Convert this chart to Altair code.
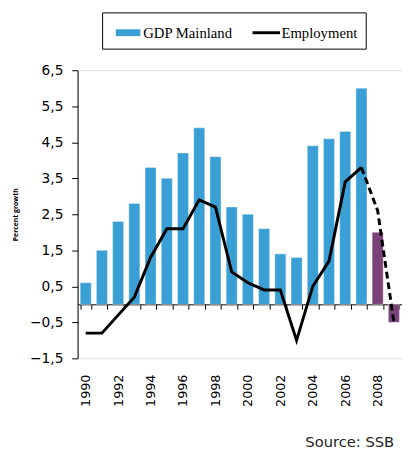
import altair as alt
import pandas as pd

years = [str(y) for y in range(1990, 2010)]
gdp = [0.6, 1.5, 2.3, 2.8, 3.8, 3.5, 4.2, 4.9, 4.1, 2.7, 2.5, 2.1, 1.4, 1.3, 4.4, 4.6, 4.8, 6.0, 2.0, -0.5]
emp = [-0.8, -0.8, -0.3, 0.2, 1.3, 2.1, 2.1, 2.9, 2.7, 0.9, 0.6, 0.4, 0.4, -1.0, 0.5, 1.2, 3.4, 3.8, 2.6, -0.5]
forecast_years = ["2008", "2009"]
series_names = ["GDP Mainland", "Employment"]
y_ticks = [-1.5, -0.5, 0.5, 1.5, 2.5, 3.5, 4.5, 5.5, 6.5]

BLUE = "#3a9fd5"
PURPLE = "#7b4179"

bars_df = pd.DataFrame({"year": years, "value": gdp})
bars_df["forecast"] = bars_df["year"].isin(forecast_years)
solid_df = pd.DataFrame({"year": years[:18], "value": emp[:18]})
dash_df = pd.DataFrame({"year": years[17:], "value": emp[17:]})
legend_df = pd.DataFrame({"series": series_names})

W, H = 331, 294
ZERO_OFFSET = H * 1.5 / 8  # distance of the zero line above the plot bottom

xscale = alt.Scale(paddingInner=0.32, paddingOuter=0.16, round=False)
yscale = alt.Scale(domain=[-1.5, 6.5], nice=False, zero=False)
cscale = alt.Scale(domain=series_names, range=[BLUE, "black"])
sscale = alt.Scale(
    domain=series_names,
    range=["M-1,-0.28L1,-0.28L1,0.28L-1,0.28Z", "M-1.12,-0.12L1.12,-0.12L1.12,0.12L-1.12,0.12Z"],
)

legend = alt.Legend(
    orient="none", legendX=25, legendY=-59, direction="horizontal", title=None,
    strokeColor="black", padding=8, columnPadding=15,
    labelFont="Liberation Serif", labelFontSize=15, labelColor="black", labelOffset=3,
    symbolSize=625, symbolStrokeWidth=0, symbolOpacity=1, symbolOffset=6,
)

yaxis = alt.Axis(
    values=y_ticks, title="Percent growth", titleFont="Open Sans", titleFontSize=7,
    titleFontWeight="bold", titleColor="black", titlePadding=11,
    labelExpr="replace(format(datum.value, '.1f'), '.', ',')", labelOverlap=False,
    labelFont="DejaVu Sans", labelFontSize=14, labelColor="black", labelPadding=9,
    tickSize=6, tickColor="black", domainColor="black", grid=False,
)

# x axis drawn on the zero line; its year labels pushed down below the plot
xaxis = alt.Axis(
    orient="bottom", title=None, offset=-ZERO_OFFSET,
    domain=True, domainColor="black",
    ticks=True, tickBand="extent", tickSize=5, tickColor="black",
    labelAngle=-90, labelPadding=ZERO_OFFSET + 11, labelFont="DejaVu Sans",
    labelFontSize=13, labelColor="black", labelOverlap=False,
    labelExpr="toNumber(datum.value) % 2 == 0 ? datum.value : ''",
)

bars = alt.Chart(bars_df).mark_bar(stroke="white", strokeOpacity=0.35, strokeWidth=1).encode(
    x=alt.X("year:O", scale=xscale, axis=xaxis),
    y=alt.Y("value:Q", scale=yscale, axis=yaxis),
    fill=alt.condition(alt.datum.forecast, alt.value(PURPLE), alt.value(BLUE)),
)

line_solid = alt.Chart(solid_df).mark_line(strokeWidth=3, color="black").encode(
    x=alt.X("year:O", scale=xscale, axis=xaxis),
    y=alt.Y("value:Q", scale=yscale, axis=yaxis),
)

line_dash = alt.Chart(dash_df).mark_line(strokeWidth=3, strokeDash=[7, 4], color="black").encode(
    x=alt.X("year:O", scale=xscale, axis=xaxis),
    y=alt.Y("value:Q", scale=yscale, axis=yaxis),
)

legend_pts = alt.Chart(legend_df).mark_point(filled=True, opacity=0).encode(
    color=alt.Color("series:N", scale=cscale, legend=legend),
    shape=alt.Shape("series:N", scale=sscale, legend=legend),
)

chart = alt.layer(bars, line_solid, line_dash, legend_pts).properties(
    width=W, height=H,
    autosize=alt.AutoSizeParams(type="none"),
    padding={"left": 71, "top": 59, "right": 0, "bottom": 88},
    title=alt.TitleParams(
        "Source: SSB", orient="bottom", anchor="end", font="DejaVu Sans",
        fontSize=15, fontWeight="normal", color="#222222", offset=29, dx=-8,
    ),
).configure_view(stroke=None).configure(background="white")

chart.save("out.html", embed_options={"renderer": "svg", "actions": False})
